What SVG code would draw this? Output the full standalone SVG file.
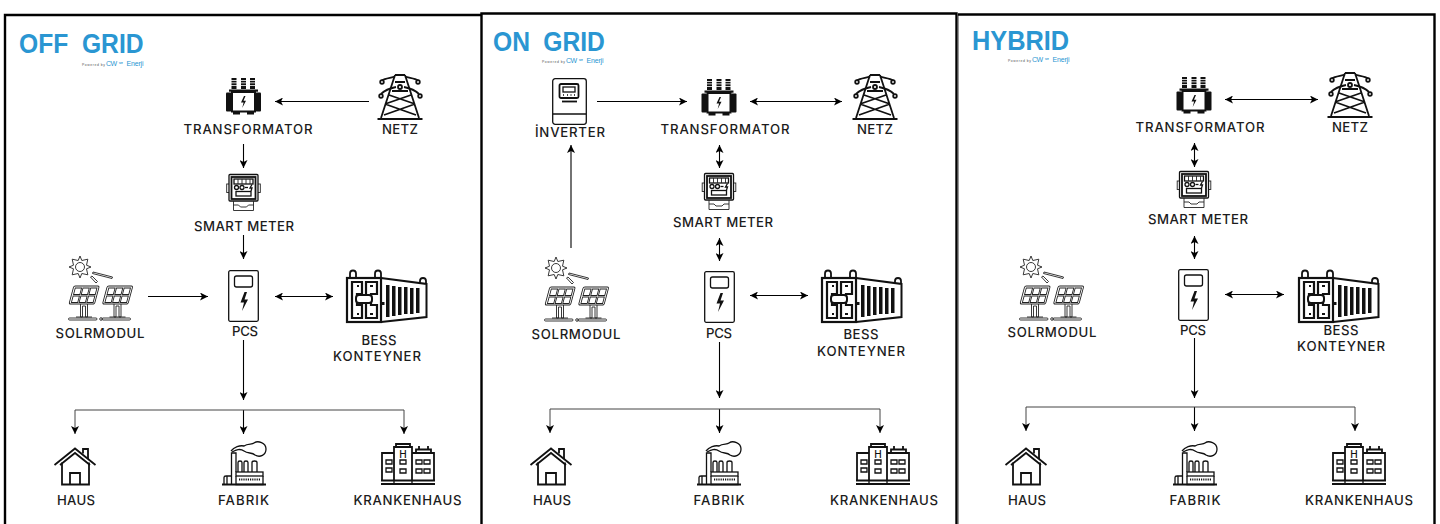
<svg xmlns="http://www.w3.org/2000/svg" width="1440" height="524" viewBox="0 0 1440 524">
<style>
.l{font-family:"Inter","Liberation Sans",sans-serif;font-size:13.2px;font-weight:500;fill:#1c1c1c;text-anchor:middle}
.hh{font-family:"Inter","Liberation Sans",sans-serif;font-size:10px;font-weight:500;fill:#111;text-anchor:middle}
.t{font-family:"Liberation Sans",sans-serif;font-size:28px;font-weight:700;fill:#2a96d2}
.p{font-family:"Liberation Sans",sans-serif;font-size:3.4px;fill:#555}
.b{font-family:"Liberation Sans",sans-serif;font-size:7px;fill:#2a96d2}
.v{font-family:"Liberation Sans",sans-serif;font-size:3.4px;font-weight:700;fill:#2a96d2}
.s{fill:none;stroke:#111;stroke-width:1.3}
.n{fill:none;stroke:#222;stroke-width:.9}
.m{fill:none;stroke:#111;stroke-width:1.8}
.w{fill:#fff;stroke:#111;stroke-width:1.3}
.k{fill:#111}
.h{fill:#fff}
.c{fill:none;stroke:#000;stroke-width:1.1}
.g{fill:none;stroke:#444;stroke-width:1}
.f{fill:none;stroke:#000;stroke-width:2.4}
</style>
<defs>
<marker id="a" viewBox="0 0 8 8" refX="8" refY="4" markerWidth="8" markerHeight="8" markerUnits="userSpaceOnUse" orient="auto-start-reverse"><path d="M8 4 0 0 2 4 0 8z" fill="#000"/></marker>
<g id="bolt"><path d="M3 0 0 6.500 2.600 6.500 1.200 12 5 4.800 2.500 4.800 4.500 0z" class="k"/></g>
<g id="i-trafo">
<g class="k"><rect x="5.500" y="1" width="5" height="11"/><rect x="15" y="1" width="5" height="11"/><rect x="24" y="1" width="5" height="11"/><rect x="3" y="12.500" width="29" height="2.200"/><rect x="0" y="15.500" width="5.500" height="19" rx="1"/><rect x="29.500" y="15.500" width="5.500" height="19" rx="1"/><rect x="7" y="35" width="7" height="2.500"/><rect x="21" y="35" width="7" height="2.500"/></g>
<g class="h"><rect x="5" y="3" width="6" height=".8"/><rect x="5" y="5.500" width="6" height=".8"/><rect x="5" y="8" width="6" height=".8"/><rect x="14.500" y="3" width="6" height=".8"/><rect x="14.500" y="5.500" width="6" height=".8"/><rect x="14.500" y="8" width="6" height=".8"/><rect x="23.500" y="3" width="6" height=".8"/><rect x="23.500" y="5.500" width="6" height=".8"/><rect x="23.500" y="8" width="6" height=".8"/></g>
<rect x="6" y="15" width="23" height="19.500" fill="#fff" stroke="#111" stroke-width="2"/>
<use href="#bolt" x="15" y="19"/>
</g>
<g id="i-meter">
<rect x="0.700" y="10" width="3" height="8.500" class="n"/><rect x="31.300" y="10" width="3" height="8.500" class="n"/>
<rect x="3" y="0.500" width="29" height="26.500" rx="1" class="w"/><rect x="5.500" y="3" width="24" height="22" class="m"/>
<rect x="8" y="5" width="19" height="5" class="s"/><path d="M12 5v5M16 5v5M20 5v5M24 5v5" class="n"/>
<circle cx="10.500" cy="13.500" r="2" class="s"/><circle cx="16" cy="13.500" r="2" class="s"/><path d="M19 13.500h3" class="s"/><path d="M26 10.500 24 14h2l-1 3" class="s"/>
<rect x="10" y="17.500" width="15" height="4.500" class="s"/>
<path d="M7.500 27v9.500h20V27M7.500 31h5l2 2h6l2-2h5" class="n"/>
</g>
<g id="i-tower">
<path d="M18 1 4 44M28 1 42 44M18 1h10M18 8h10M8 30 34 21M38 30 12 21M15 17h16M8 30 39 41M38 30 7 41" class="m"/>
<path d="M0.500 45h45" fill="none" stroke="#111" stroke-width="2.200"/>
<path d="M5 6.500C8 4 14 4 18 2.500M41 6.500C38 4 32 4 28 2.500M4 20C8 16 14 14 19 13M42 20C38 16 32 14 27 13" class="m"/>
<circle cx="5" cy="8" r="1.800" class="m"/><circle cx="41" cy="8" r="1.800" class="m"/><circle cx="4" cy="22" r="1.800" class="m"/><circle cx="43" cy="22" r="1.800" class="m"/><circle cx="23" cy="13" r="2" class="m"/>
</g>
<g id="i-solar">
<circle cx="12" cy="12" r="4.500" class="n"/>
<path d="M12 1 13.800 5.500 19.800 4.200 18.500 10.200 23 12 18.500 13.800 19.800 19.800 13.800 18.500 12 23 10.200 18.500 4.200 19.800 5.500 13.800 1 12 5.500 10.200 4.200 4.200 10.200 5.500z" class="n"/>
<path d="M25 17 44.500 22 44 23.500 24.500 18.500zM22.500 22 24 21 29.500 26.500 28 28z" class="n"/>
<g id="pv"><g transform="translate(1 49) skewX(-15)"><rect x="0" y="-18" width="25.500" height="18" rx="1.500" class="n"/><path d="M2-16h6.300v6.500h-6.300zM9.700-16h6.300v6.500h-6.300zM17.400-16h6.300v6.500h-6.300zM2-8h6.300v6.500h-6.300zM9.700-8h6.300v6.500h-6.300zM17.400-8h6.300v6.500h-6.300z" class="n"/></g>
<path d="M12.500 49V62H14.500V51H17.500V62H19.500V49M8 62H24" class="n"/><rect x="0.500" y="63" width="28.500" height="2" rx="1" class="n"/></g>
<use href="#pv" x="33.500"/>
<circle cx="33" cy="64" r="1.300" class="n"/>
</g>
<g id="i-pcs">
<rect x="0.700" y="0.700" width="29.600" height="50.600" rx="1.500" class="s"/>
<rect x="6.500" y="6" width="18" height="11" rx="2" class="s"/>
<path d="M16.500 22 12.500 32.500H16L14 41 20 29.500H16.500L19 22z" class="k"/>
</g>
<g id="i-bess">
<path d="M35 8 80.500 14V47L35 52" fill="none" stroke="#111" stroke-width="2"/>
<path d="M4 8V3.500A3 3 0 0 1 10 3.500V8M29 8V3.500A3 3 0 0 1 35 3.500V8M74 13V11A3 3 0 0 1 80 11V14" class="m"/>
<rect x="1" y="8" width="34" height="44" fill="#fff" stroke="#111" stroke-width="2.200"/>
<path d="M6 12H16V24H11V35H16V48H6ZM20 12H31V24H25V35H31V48H20ZM11 16H13M24 16H27M11 44H13M24 44H27" fill="none" stroke="#111" stroke-width="2.200"/>
<rect x="10" y="25" width="16" height="8" rx="3" fill="#fff" stroke="#111" stroke-width="2"/>
<g class="k"><rect x="40" y="15" width="3.500" height="32"/><rect x="46" y="16" width="3.500" height="30"/><rect x="52" y="17" width="3.500" height="28"/><rect x="58" y="17" width="3.500" height="27"/><rect x="64" y="18" width="3.500" height="26"/><rect x="70" y="18" width="3.500" height="25"/><rect x="36" y="32" width="2.500" height="3"/></g>
</g>
<g id="i-haus">
<path d="M0.500 18 21 1.500 41.500 18M6 18 21 6 36 18" class="m" stroke-width="1.600"/>
<path d="M8 15.500V37.500H35V15.500M16 37.500V26H26V37.500M29 6.500V2H34V12" class="m"/>
</g>
<g id="i-fabrik">
<path d="M9.500 43V12H14V31M16 31V21.500Q16 20 18 20T20 21.500V31M22 31V21.500Q22 20 24 20T26 21.500V31M30 31V21.500Q30 20 32.500 20T35 21.500V31" class="s"/>
<path d="M9 10C12 6 18 4 22 5 26 2 30 4 32 2 36-1 44 2 44 8 44 14 38 17 33 14 30 11 26 13 22 10 18 7 14 9 10 11" class="s"/>
<rect x="14" y="31" width="27" height="4" class="s"/><path d="M14 35V43.500H41V35" class="s"/>
<path d="M17 38.500H38" stroke="#111" stroke-width="1.800" stroke-dasharray="1.200 1" fill="none"/>
<path d="M2 43.500V36.500Q2 35 4 35H9.500M5 35V43.500" class="s"/>
<path d="M0 43.500H44" class="m"/>
</g>
<g id="i-kranken">
<path d="M13 37V4H31V37M15 4V1H29V4M1 37V10H13M31 10H53V37M35 10V6.500H50V10M38 6.500V3M47 6.500V3" class="m"/>
<path d="M0 37.500H54M0 41H54" fill="none" stroke="#111" stroke-width="2"/><path d="M13 38V41M31 38V41" class="s"/>
<path d="M5 17h6v4h-6zM5 25h6v4h-6zM19 17h6v4h-6zM19 26h6v4h-6zM35 17h6v4h-6zM43 17h6v4h-6zM35 26h6v4h-6zM43 26h6v4h-6z" class="s"/>
</g>
<g id="i-inv">
<rect x="0.700" y="0.700" width="33.600" height="45.600" rx="2.500" class="s"/><path d="M1 36H34" class="s"/>
<rect x="7.500" y="6" width="19" height="14" rx="1.500" class="m"/><rect x="11" y="9" width="12" height="5" class="s"/>
<path d="M11 17h1M15 17h1M18.500 17h1M22 17h1" class="s"/><path d="M10 23.500H25" class="m"/>
</g>
</defs>

<rect width="1440" height="524" fill="#fff"/>
<g id="frames">
<path d="M5 524V15H481" class="f"/>
<path d="M958.500 524V14" fill="none" stroke="#999" stroke-width="1"/>
<path d="M958 14.500H1434.500V524" class="f"/>
<path d="M481.500 524V13.500H956.500V524" class="f" stroke-width="3"/>
</g>

<g id="connectors">
<g marker-end="url(#a)" class="c">
<path d="M369 101.500H275"/><path d="M243.500 144V168"/><path d="M243.500 235V259"/><path d="M148 296.500H208"/><path d="M243.500 340V400"/>
<path d="M597 101.500H687"/><path d="M571 248V145"/><path d="M719.500 342V398"/>
<path d="M1194.500 338V398"/>
<path d="M243.500 410V434"/><path d="M719.500 409V433"/><path d="M1194.500 407V431"/>
</g>
<g marker-start="url(#a)" marker-end="url(#a)" class="c">
<path d="M275 296.500H333"/>
<path d="M750 101.500H842"/><path d="M719.500 145V168"/><path d="M719.500 238V261"/><path d="M750 295.500H808"/>
<path d="M1225 99.500H1318"/><path d="M1194.500 143V167"/><path d="M1194.500 236V259"/><path d="M1225 294.500H1284"/>
</g>
<g class="g">
<path d="M75 410H404"/><path d="M550 409H880"/><path d="M1026 407H1355"/>
<path d="M75 410V434" marker-end="url(#a)"/><path d="M404 410V434" marker-end="url(#a)"/>
<path d="M550 409V433" marker-end="url(#a)"/><path d="M880 409V433" marker-end="url(#a)"/>
<path d="M1026 407V431" marker-end="url(#a)"/><path d="M1355 407V431" marker-end="url(#a)"/>
</g>
</g>

<g id="off-title"><text class="t" transform="translate(19 53) scale(.88 1)" word-spacing="7.800">OFF GRID</text><text class="p" x="82" y="65.500" textLength="23">Powered by</text><text class="b" x="106" y="65.500" textLength="11">CW</text><text class="v" x="119" y="64">ve</text><text class="b" x="126.500" y="65.500" textLength="17">Enerji</text></g>
<g id="off-transformator"><use href="#i-trafo" x="226" y="77"/><text class="l" x="248" y="134" textLength="129">TRANSFORMATOR</text></g>
<g id="off-netz"><use href="#i-tower" x="377" y="74"/><text class="l" x="400" y="134" textLength="36">NETZ</text></g>
<g id="off-meter"><use href="#i-meter" x="226" y="174"/><text class="l" x="244" y="231" textLength="100">SMART METER</text></g>
<g id="off-solar"><use href="#i-solar" x="68" y="255"/><text class="l" x="100" y="338" textLength="89">SOLRMODUL</text></g>
<g id="off-pcs"><use href="#i-pcs" x="228" y="270"/><text class="l" x="245" y="336" textLength="26">PCS</text></g>
<g id="off-bess"><use href="#i-bess" x="346" y="270"/><text class="l" x="379" y="345" textLength="35">BESS</text><text class="l" x="377" y="360.500" textLength="88">KONTEYNER</text></g>
<g id="off-haus"><use href="#i-haus" x="54" y="447"/><text class="l" x="76" y="505" textLength="38">HAUS</text></g>
<g id="off-fabrik"><use href="#i-fabrik" x="222" y="441"/><text class="l" x="243.500" y="505" textLength="51">FABRIK</text></g>
<g id="off-kranken"><use href="#i-kranken" x="381" y="443"/><text class="hh" x="403" y="458">H</text><text class="l" x="407.500" y="505" textLength="108">KRANKENHAUS</text></g>

<g id="on-title"><text class="t" transform="translate(493 50.500) scale(.88 1)" word-spacing="7.400">ON GRID</text><text class="p" x="542" y="62.500" textLength="23">Powered by</text><text class="b" x="566" y="62.500" textLength="11">CW</text><text class="v" x="579" y="61">ve</text><text class="b" x="586.500" y="62.500" textLength="17">Enerji</text></g>
<g id="on-inverter"><use href="#i-inv" x="552" y="78"/><text class="l" x="570" y="137" textLength="70">İNVERTER</text></g>
<g id="on-transformator"><use href="#i-trafo" x="701.500" y="78"/><text class="l" x="725" y="134" textLength="129">TRANSFORMATOR</text></g>
<g id="on-netz"><use href="#i-tower" x="852" y="74"/><text class="l" x="875" y="134" textLength="36">NETZ</text></g>
<g id="on-meter"><use href="#i-meter" x="701.500" y="173"/><text class="l" x="723" y="227" textLength="100">SMART METER</text></g>
<g id="on-solar"><use href="#i-solar" x="544" y="256"/><text class="l" x="576" y="339" textLength="89">SOLRMODUL</text></g>
<g id="on-pcs"><use href="#i-pcs" x="704" y="271"/><text class="l" x="719" y="338" textLength="26">PCS</text></g>
<g id="on-bess"><use href="#i-bess" x="821" y="270"/><text class="l" x="861" y="339" textLength="35">BESS</text><text class="l" x="861" y="356" textLength="88">KONTEYNER</text></g>
<g id="on-haus"><use href="#i-haus" x="530" y="447"/><text class="l" x="552" y="505" textLength="38">HAUS</text></g>
<g id="on-fabrik"><use href="#i-fabrik" x="697" y="441"/><text class="l" x="719" y="505" textLength="51">FABRIK</text></g>
<g id="on-kranken"><use href="#i-kranken" x="856" y="443"/><text class="hh" x="878" y="458">H</text><text class="l" x="884" y="505" textLength="108">KRANKENHAUS</text></g>

<g id="hyb-title"><text class="t" transform="translate(972 49.500) scale(.905 1)">HYBRID</text><text class="p" x="1008" y="61.500" textLength="23">Powered by</text><text class="b" x="1032" y="61.500" textLength="11">CW</text><text class="v" x="1045" y="60">ve</text><text class="b" x="1052.500" y="61.500" textLength="17">Enerji</text></g>
<g id="hyb-transformator"><use href="#i-trafo" x="1176.500" y="76"/><text class="l" x="1200" y="132" textLength="129">TRANSFORMATOR</text></g>
<g id="hyb-netz"><use href="#i-tower" x="1327" y="72"/><text class="l" x="1350" y="132" textLength="36">NETZ</text></g>
<g id="hyb-meter"><use href="#i-meter" x="1176.500" y="171"/><text class="l" x="1198" y="224" textLength="100">SMART METER</text></g>
<g id="hyb-solar"><use href="#i-solar" x="1019" y="255"/><text class="l" x="1052" y="337" textLength="89">SOLRMODUL</text></g>
<g id="hyb-pcs"><use href="#i-pcs" x="1178" y="269"/><text class="l" x="1193" y="335" textLength="26">PCS</text></g>
<g id="hyb-bess"><use href="#i-bess" x="1298" y="270"/><text class="l" x="1341" y="335" textLength="35">BESS</text><text class="l" x="1341" y="351" textLength="88">KONTEYNER</text></g>
<g id="hyb-haus"><use href="#i-haus" x="1005" y="447"/><text class="l" x="1027" y="505" textLength="38">HAUS</text></g>
<g id="hyb-fabrik"><use href="#i-fabrik" x="1173" y="441"/><text class="l" x="1195" y="505" textLength="51">FABRIK</text></g>
<g id="hyb-kranken"><use href="#i-kranken" x="1332" y="443"/><text class="hh" x="1354" y="458">H</text><text class="l" x="1359" y="505" textLength="108">KRANKENHAUS</text></g>
</svg>
